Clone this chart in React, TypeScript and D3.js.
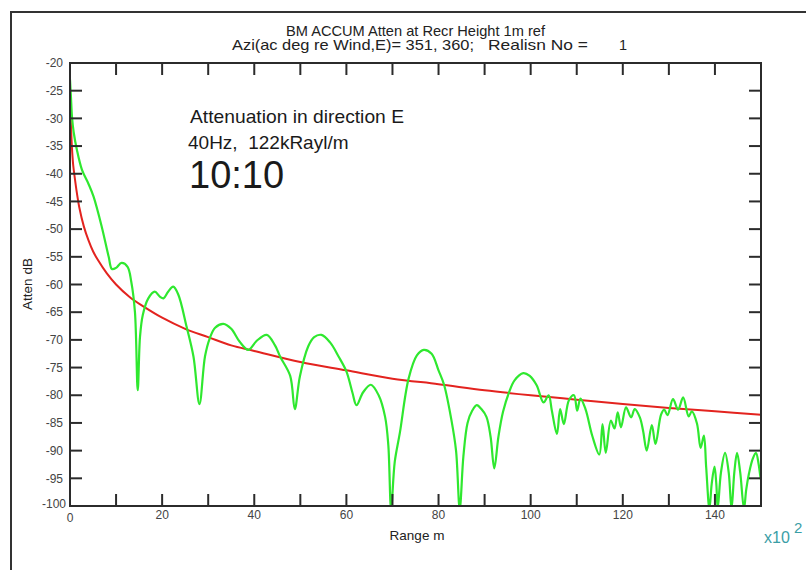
import React from 'react';
import * as d3 from 'd3';

// ---------- data (range in units of 100 m, attenuation in dB) ----------
const titleLine1 = 'BM ACCUM Atten at Recr Height 1m ref';
const titleLine2Parts = ['Azi(ac deg re Wind,E)= 351, 360;', 'Realisn No =', '1'];
const annotation = ['Attenuation in direction E', '40Hz,  122kRayl/m', '10:10'];

const xTickValues = [0, 10, 20, 30, 40, 50, 60, 70, 80, 90, 100, 110, 120, 130, 140, 150];
const xLabelValues = [0, 20, 40, 60, 80, 100, 120, 140];
const yTickValues = [-20, -25, -30, -35, -40, -45, -50, -55, -60, -65, -70, -75, -80, -85, -90, -95, -100];

const redCurve: [number, number][] = [
  [0, -27], [0.2, -31], [0.4, -35], [0.7, -38.5], [1, -40.5], [1.5, -43.5], [2, -46], [3, -49.5],
  [4, -52], [5, -54], [6, -55.5], [8, -58], [10, -60], [13, -62.3], [16, -64], [20, -66],
  [25, -68], [30, -69.5], [35, -71], [40, -72], [50, -74], [60, -75.5], [70, -77], [80, -78],
  [90, -79.1], [100, -80], [110, -80.8], [120, -81.6], [130, -82.3], [140, -82.9], [150, -83.5],
];

const greenCurve: [number, number][] = [
  [0, -23], [0.2, -26], [0.43, -29.7], [0.8, -32.5], [1.5, -35.7], [2.6, -39.3], [4, -41.8],
  [5.1, -44.1], [6.9, -49.6], [8.4, -55], [9.1, -57.2], [10, -57], [11.2, -56.1], [12.5, -56.8],
  [13.3, -59.5], [14.1, -65], [14.7, -79.1], [15.2, -69.4], [15.8, -65.5], [17, -62.5],
  [18.4, -61.3], [19.5, -62.2], [20.3, -62.5], [21.3, -61.3], [22.4, -60.4], [23.5, -61.8],
  [25.3, -67.6], [26.8, -73], [28.1, -81.6], [29.3, -73], [30.3, -69.8], [31.5, -67.8],
  [33.3, -67.1], [35, -68], [36.8, -70.3], [38.7, -71.8], [40.5, -70.2], [42.7, -69.1],
  [44.5, -71], [45.6, -73], [47.8, -76.5], [48.8, -82.5], [49.9, -76.6], [51.7, -71.2],
  [53, -69.5], [54.6, -69.1], [56.5, -70.5], [58.3, -73], [60, -75.7], [61.3, -79.5],
  [62.2, -81.8], [63.6, -79.5], [65.3, -78.1], [67, -80], [68.4, -83.9], [69.1, -89],
  [69.7, -100.5], [70.5, -92], [71.6, -86.8], [73.5, -77], [75.3, -72.8], [76.8, -71.8],
  [78.5, -72.5], [80, -75.5], [81.2, -78.1], [82.8, -84.5], [83.8, -90], [84.6, -100.5],
  [85.4, -91], [86.3, -85], [87.3, -82.8], [88.3, -81.8], [89.3, -82.5], [90.4, -83.9],
  [91.3, -87.5], [92.1, -93.2], [93, -87.5], [94, -83], [95.3, -79.5], [96.5, -77.3],
  [98.4, -76], [99.8, -76.5], [101.3, -78.2], [102.8, -81.3], [103.9, -80], [104.6, -82.8],
  [105.7, -87], [106.4, -82.5], [107.2, -85.2], [108.3, -80.9], [109.4, -80], [110.1, -82.8],
  [110.8, -80.6], [111.9, -82.5], [113.4, -87.4], [114.9, -90.7], [115.6, -85.2],
  [116.3, -90.4], [117.4, -84.6], [118.2, -86], [118.9, -83.1], [119.6, -85.8], [120.7, -82.2],
  [121.8, -84], [122.6, -82.5], [123.7, -84], [124.4, -86.4], [125.2, -90], [126.3, -85.4],
  [127.1, -88.8], [128.3, -83.5], [129, -82.6], [129.7, -83.6], [130.9, -80.7], [132, -82.6],
  [133.1, -80.4], [134.3, -83.8], [135, -82.9], [136.1, -85.1], [136.9, -89.5], [137.6, -87.3],
  [138.1, -93], [138.8, -100.5], [139.3, -96], [139.9, -92.9], [140.3, -96], [140.6, -100.5],
  [141.3, -94], [142.2, -90.4], [143, -94], [143.6, -100.5], [144.2, -94], [144.8, -90.4],
  [145.5, -94], [146.3, -100.5], [146.8, -97], [147.4, -94.1], [148.2, -91.5], [148.9, -90.4],
  [149.5, -92.5], [150, -95.4], [150, -89.5],
];

// ---------- layout ----------
const W = 806;
const H = 570;
const FONT = '"Liberation Sans", Arial, Helvetica, sans-serif';

const x = d3.scaleLinear().domain([0, 150]).range([70, 761]);
const y = d3.scaleLinear().domain([-100, -20]).range([506, 63]);

const line = d3
  .line<[number, number]>()
  .x((d) => x(d[0]))
  .y((d) => y(d[1]))
  .curve(d3.curveCatmullRom.alpha(0.5));

export default function App() {
  const [x0, x1] = x.range();
  const [y0, y1] = y.range(); // y0 bottom, y1 top
  const tickLen = 12;
  const axisColor = '#2b2b2b';
  const labelColor = '#444';
  const titleColor = '#222';

  return (
    <svg
      width={W}
      height={H}
      viewBox={`0 0 ${W} ${H}`}
      style={{ position: 'absolute', left: 0, top: 0, background: '#fff', fontFamily: FONT }}
    >
      <rect x={0} y={0} width={W} height={H} fill="#fff" />
      {/* outer frame */}
      <path d={`M11,${H + 5} L11,12 L${W + 5},12`} fill="none" stroke="#333" strokeWidth={2} />

      {/* titles */}
      <text x={286} y={36} fontSize={14.5} fill={titleColor} textLength={259} lengthAdjust="spacingAndGlyphs">
        {titleLine1}
      </text>
      <text x={232} y={50} fontSize={14.5} fill={titleColor} textLength={242} lengthAdjust="spacingAndGlyphs">
        {titleLine2Parts[0]}
      </text>
      <text x={488} y={50} fontSize={14.5} fill={titleColor} textLength={100} lengthAdjust="spacingAndGlyphs">
        {titleLine2Parts[1]}
      </text>
      <text x={619} y={50} fontSize={14.5} fill={titleColor}>
        {titleLine2Parts[2]}
      </text>

      <defs>
        <clipPath id="plotClip">
          <rect x={x0} y={y1} width={x1 - x0} height={y0 - y1} />
        </clipPath>
      </defs>

      {/* curves */}
      <g clipPath="url(#plotClip)">
        <path d={line(redCurve) || ''} fill="none" stroke="#e3231f" strokeWidth={2} />
        <path d={line(greenCurve) || ''} fill="none" stroke="#2fe82f" strokeWidth={2.2} />
      </g>

      {/* axes box */}
      <rect x={x0} y={y1} width={x1 - x0} height={y0 - y1} fill="none" stroke={axisColor} strokeWidth={2} />

      {/* x ticks */}
      {xTickValues.slice(1, -1).map((v) => (
        <g key={'xt' + v}>
          <line x1={x(v)} x2={x(v)} y1={y0} y2={y0 - tickLen} stroke={axisColor} strokeWidth={2} />
          <line x1={x(v)} x2={x(v)} y1={y1} y2={y1 + tickLen} stroke={axisColor} strokeWidth={2} />
        </g>
      ))}
      {xLabelValues.map((v) => (
        <text key={'xl' + v} x={x(v)} y={v === 0 ? 522 : 519} textAnchor="middle" fontSize={12} fill={labelColor}>
          {String(v)}
        </text>
      ))}

      {/* y ticks */}
      {yTickValues.slice(1, -1).map((v) => (
        <g key={'yt' + v}>
          <line x1={x0} x2={x0 + tickLen} y1={y(v)} y2={y(v)} stroke={axisColor} strokeWidth={2} />
          <line x1={x1} x2={x1 - tickLen} y1={y(v)} y2={y(v)} stroke={axisColor} strokeWidth={2} />
        </g>
      ))}
      {yTickValues.map((v) => (
        <text
          key={'yl' + v}
          x={v === -100 ? 66 : 63}
          y={v === -100 ? y(v) - 2 : y(v)}
          dy="0.35em"
          textAnchor="end"
          fontSize={12}
          fill={labelColor}
        >
          {String(v)}
        </text>
      ))}

      {/* axis titles */}
      <text x={417} y={540} textAnchor="middle" fontSize={13.5} fill={titleColor}>
        Range m
      </text>
      <text transform={`translate(32,284) rotate(-90)`} textAnchor="middle" fontSize={13.5} fill={titleColor}>
        Atten dB
      </text>
      <text x={764} y={543} fontSize={16} fill="#3a9ea6">
        x10
      </text>
      <text x={794} y={533} fontSize={15} fill="#3a9ea6">
        2
      </text>

      {/* annotation */}
      <text x={190} y={123} fontSize={19} fill="#1a1a1a" textLength={214} lengthAdjust="spacingAndGlyphs">
        {annotation[0]}
      </text>
      <text x={188} y={149} fontSize={19} fill="#1a1a1a" style={{ whiteSpace: 'pre' }}>
        {annotation[1]}
      </text>
      <text x={189} y={188} fontSize={38} fill="#1a1a1a">
        {annotation[2]}
      </text>
    </svg>
  );
}
